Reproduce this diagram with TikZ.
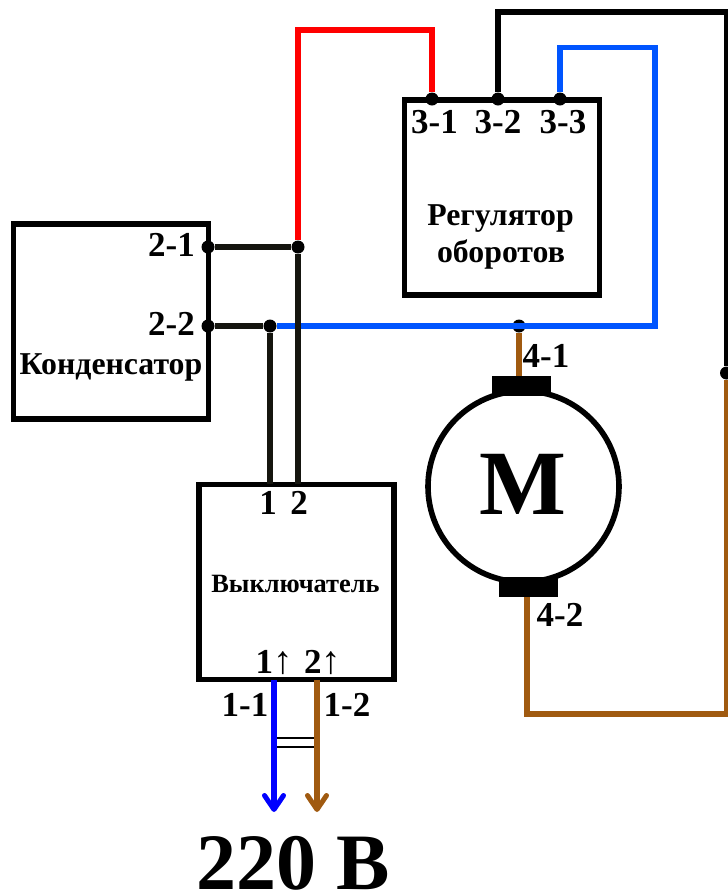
\documentclass[tikz,border=0pt]{standalone}
\usepackage{fontspec}
\setmainfont{Liberation Serif}
\usepackage{tikz}
\usetikzlibrary{calc,positioning,arrows.meta}
\definecolor{wirered}{HTML}{FF0000}
\definecolor{wireblue}{HTML}{0055FF}
\definecolor{linepure}{HTML}{0000FF}
\definecolor{wirebrown}{HTML}{A05A10}
\definecolor{wireblack}{HTML}{15150F}
\tikzset{
	block/.style={draw, line width=5.6pt, minimum width=195pt, minimum height=195pt, inner sep=0pt},
	wire/.style={line width=5.4pt, line join=miter},
	joint/.style={circle, fill=black, minimum size=13pt, inner sep=0pt},
	brush/.style={fill=black, minimum width=59pt, minimum height=20pt, inner sep=0pt},
	num/.style={font=\fontsize{35}{35}\selectfont\bfseries, inner sep=0pt},
	title/.style={font=\fontsize{31.8}{31.8}\selectfont\bfseries, inner sep=0pt, anchor=base},
	head/.style={-{Straight Barb[length=14pt, width=19pt, line width=5pt, round]}},
}
\newcommand{\uparr}{{\fontsize{39}{39}\selectfont\textmd{↑}}}

\begin{document}
\begin{tikzpicture}[x=1pt, y=-1pt]
\useasboundingbox (0,0) rectangle (728,892);

\node[block] (cap) at (111,321.5) {};
\node[block] (reg) at (502,197.2) {};
\node[block] (sw) at (296.5,582) {};
\node[draw, circle, line width=5.6pt, minimum size=191pt, inner sep=0pt] (motor) at (523.5,486.5) {};
\node[brush] (topbrush) at (521,386) {};
\node[brush] (botbrush) at (528,587) {};

\node[joint] (p21) at (208,247) {};
\node[joint] (p22) at (208,326) {};
\node[joint] (j1) at (298,247) {};
\node[joint] (j2) at (270,326) {};
\node[joint] (j3) at (519,326) {};
\node[joint] (p31) at (432,99) {};
\node[joint] (p32) at (498,99) {};
\node[joint] (p33) at (560,99) {};
\node[joint] (j4) at (726.5,373) {};

\coordinate (redtop) at (365,30);
\coordinate (blacktop) at (726.5,12);
\coordinate (bluetop) at (655,47.5);
\coordinate (browncorner) at (527,714);
\coordinate (s1) at (270,484);
\coordinate (s2) at (298,484);
\coordinate (o1) at (274,680);
\coordinate (o2) at (317,680);
\coordinate (e1) at (274,812);
\coordinate (e2) at (317,812);
\coordinate (t1) at (274,738.3);
\coordinate (t2) at (317,738.3);
\coordinate (u1) at (274,746.7);
\coordinate (u2) at (317,746.7);

\draw[wire, wireblue] (p33) |- (bluetop) |- (j2);
\draw[wire, wirered] (j1) |- (redtop) -| (p31);
\draw[wire, black] (p32) |- (blacktop) -- (j4);
\draw[wire, wireblack] (p21) -- (j1) -- (s2);
\draw[wire, wireblack] (p22) -- (j2) -- (s1);
\draw[wire, wirebrown] (j3) -- (j3 |- topbrush.north);
\draw[wire, wirebrown] (j4) |- (browncorner) -- (browncorner |- botbrush.south);

\draw[line width=2pt] (t1) -- (t2);
\draw[line width=2pt] (u1) -- (u2);
\draw[wire, linepure, head] (o1) -- (e1);
\draw[wire, wirebrown, head] (o2) -- (e2);

\node[num] (l21) at (171.5,245) {2-1};
\node[num] (l22) at (171.5,323.5) {2-2};
\node[num] (l31) at (434.5,122.5) {3-1};
\node[num] (l32) at (498,122.5) {3-2};
\node[num] (l33) at (563,122.5) {3-3};
\node[num] (l41) at (546,356) {4-1};
\node[num] (l42) at (560,615) {4-2};
\node[num] (l1) at (268,503) {1};
\node[num] (l2) at (299,503) {2};
\node[num, anchor=base] (l1up) at (274,673) {1\uparr};
\node[num, anchor=base] (l2up) at (322.5,673) {2\uparr};
\node[num] (l11) at (245,705) {1-1};
\node[num] (l12) at (347,705) {1-2};

\node[title] (capname) at (111,374.5) {Конденсатор};
\node[title] (regname) at (500.5,225) {Регулятор};
\node[title] (regname2) at (501,262.5) {оборотов};
\node[title, font=\fontsize{26.4}{26.4}\selectfont\bfseries] (swname) at (295.5,592.5) {Выключатель};
\node[title, font=\fontsize{92}{92}\selectfont\bfseries] (mname) at (523,514) {М};
\node[title, font=\fontsize{80}{80}\selectfont\bfseries] (volt) at (293,889) {220 В};

\end{tikzpicture}
\end{document}
